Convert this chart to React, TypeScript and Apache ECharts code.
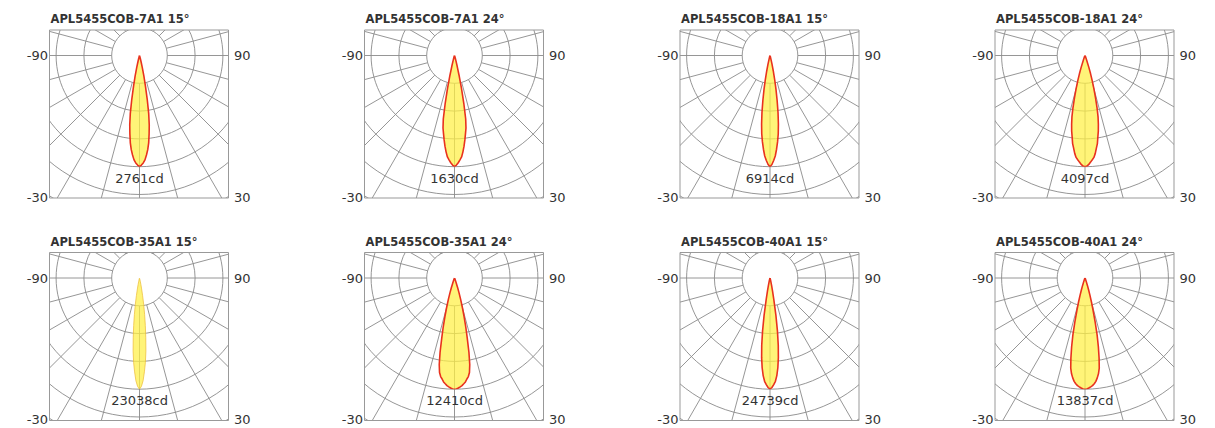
import React, { useEffect, useRef } from 'react';
import * as echarts from 'echarts';

// ---------- data ----------
const titles = [
  'APL5455COB-7A1 15°', 'APL5455COB-7A1 24°', 'APL5455COB-18A1 15°', 'APL5455COB-18A1 24°',
  'APL5455COB-35A1 15°', 'APL5455COB-35A1 24°', 'APL5455COB-40A1 15°', 'APL5455COB-40A1 24°',
];
const peakCd = [2761, 1630, 6914, 4097, 23038, 12410, 24739, 13837];

// half-profile angles (deg), mirrored for negative side
const angleDeg = [0, 1, 2, 3, 4, 5, 6, 7, 8, 9, 10, 11, 12, 13, 14, 15, 16, 17, 18, 20, 25, 30, 40, 60, 90];

const cd_7A1_15 = [2761, 2720, 2670, 2595, 2477, 2347, 2181, 1960, 1739, 1463, 1104, 773, 525, 304, 166, 83, 41, 30, 22, 14, 8, 6, 3, 1, 0];
const cd_7A1_24 = [1630, 1606, 1573, 1532, 1491, 1418, 1337, 1247, 1157, 1076, 945, 717, 489, 293, 163, 82, 49, 33, 24, 13, 7, 3, 2, 1, 0];
const cd_18A1_15 = [6914, 6776, 6534, 6257, 5842, 5393, 4909, 4287, 3595, 2835, 2143, 1521, 968, 553, 277, 138, 83, 62, 48, 28, 14, 7, 5, 2, 0];
const cd_18A1_24 = [4097, 4077, 4015, 3933, 3851, 3769, 3626, 3441, 3278, 3032, 2827, 2581, 2315, 1967, 1598, 1270, 963, 696, 451, 164, 41, 16, 8, 4, 0];
const cd_35A1_15 = [23038, 22462, 21310, 19467, 17509, 15205, 12441, 9906, 7603, 5529, 3686, 2304, 1382, 806, 461, 276, 184, 138, 115, 69, 46, 23, 16, 5, 0];
const cd_35A1_24 = [12410, 12385, 12286, 12162, 12038, 11852, 11665, 11355, 11107, 10673, 9804, 8439, 6826, 5585, 4406, 3351, 2482, 1737, 1117, 434, 124, 50, 25, 12, 0];
const cd_40A1_15 = [24739, 24368, 23749, 23007, 21770, 20039, 17812, 15091, 11875, 8411, 4948, 2969, 1732, 990, 618, 371, 247, 198, 148, 99, 49, 25, 17, 5, 0];
const cd_40A1_24 = [13837, 13809, 13699, 13560, 13422, 13214, 12938, 12522, 12038, 11346, 10101, 8717, 7264, 5604, 4151, 3127, 2214, 1522, 969, 415, 111, 42, 28, 14, 0];

const profiles = [cd_7A1_15, cd_7A1_24, cd_18A1_15, cd_18A1_24, cd_35A1_15, cd_35A1_24, cd_40A1_15, cd_40A1_24];

const sideLabels = ['-90', '90', '-30', '30'];
const angleStep = 15; // radial grid every 15°

// ---------- layout / style ----------
const colCenters = [139.5, 454.5, 770, 1085];
const rowCenters = [55.5, 278];
const RING = 27.8; // px per quarter of peak
const BOX_L = 90, BOX_R = 89, BOX_T = 25.5, BOX_B = 142.5;
const GRID_COLOR = '#8a8a8a';
const BOX_COLOR = '#999999';
const TEXT_COLOR = '#333333';
const lineColors = ['#e8321e', '#e8321e', '#e8321e', '#e8321e', 'rgba(236,190,60,0.75)', '#e8321e', '#e8321e', '#e8321e'];
const FONT = 'DejaVu Sans';

function lobeData(cd: number[]) {
  const out: number[][] = [];
  for (let k = angleDeg.length - 1; k >= 1; k--) out.push([cd[k], -angleDeg[k]]);
  for (let k = 0; k < angleDeg.length; k++) out.push([cd[k], angleDeg[k]]);
  return out;
}

function buildOption() {
  const polar: any[] = [];
  const angleAxis: any[] = [];
  const radiusAxis: any[] = [];
  const series: any[] = [];
  const graphic: any[] = [];
  const outerR = RING * 6.25;
  const ext = outerR + 4;

  titles.forEach((title, i) => {
    const row = Math.floor(i / 4);
    const col = i % 4;
    const cx = colCenters[col];
    const cy = rowCenters[row];
    const zb = row === 0 ? 10 : 1;
    const q = peakCd[i] / 4;
    const left = cx - BOX_L, right = cx + BOX_R, top = cy - BOX_T, bottom = cy + BOX_B;

    // grid polar (rings & radial lines, hollow centre)
    polar.push({ center: [cx, cy], radius: [RING, outerR] });
    angleAxis.push({
      polarIndex: 2 * i, type: 'value', min: -180, max: 180, interval: angleStep,
      startAngle: 90, clockwise: false, z: zb,
      axisLine: { show: false }, axisTick: { show: false }, axisLabel: { show: false },
      splitLine: { show: true, lineStyle: { color: GRID_COLOR, width: 0.9 } },
    });
    radiusAxis.push({
      polarIndex: 2 * i, type: 'value', min: q, max: q * 6.25, interval: q, z: zb,
      axisLine: { show: false }, axisTick: { show: false }, axisLabel: { show: false },
      splitLine: { show: true, lineStyle: { color: GRID_COLOR, width: 0.9 } },
    });

    // lobe polar
    polar.push({ center: [cx, cy], radius: [0, RING * 4] });
    angleAxis.push({ polarIndex: 2 * i + 1, type: 'value', min: -180, max: 180, startAngle: 90, clockwise: false, show: false });
    radiusAxis.push({ polarIndex: 2 * i + 1, type: 'value', min: 0, max: peakCd[i], show: false });
    series.push({
      type: 'line', coordinateSystem: 'polar', polarIndex: 2 * i + 1,
      data: lobeData(profiles[i]), showSymbol: false, silent: true, z: zb + 1,
      lineStyle: { color: lineColors[i], width: i === 4 ? 1 : 1.6 },
      areaStyle: { color: '#fff044', opacity: 0.72 },
    });

    // masks outside the box (overlapping slightly to avoid seams)
    const mz = zb + 2;
    const fill = { fill: '#ffffff' };
    graphic.push({ type: 'rect', z: mz, silent: true, shape: { x: cx - ext, y: cy - ext, width: 2 * ext, height: top - (cy - ext) }, style: fill });
    graphic.push({ type: 'rect', z: mz, silent: true, shape: { x: cx - ext, y: bottom, width: 2 * ext, height: cy + ext - bottom }, style: fill });
    graphic.push({ type: 'rect', z: mz, silent: true, shape: { x: cx - ext, y: top - 2, width: left - (cx - ext), height: bottom - top + 4 }, style: fill });
    graphic.push({ type: 'rect', z: mz, silent: true, shape: { x: right, y: top - 2, width: cx + ext - right, height: bottom - top + 4 }, style: fill });

    // box
    graphic.push({ type: 'rect', z: 40, silent: true, shape: { x: left, y: top, width: right - left, height: bottom - top }, style: { fill: 'none', stroke: BOX_COLOR, lineWidth: 1 } });

    // texts
    graphic.push({ type: 'text', z: 50, x: left + 1, y: cy - 36.5, style: { text: title, fill: TEXT_COLOR, fontFamily: FONT, fontWeight: 'bold', fontSize: 11.5, align: 'left', verticalAlign: 'middle' } });
    graphic.push({ type: 'text', z: 50, x: left - 1.5, y: cy, style: { text: sideLabels[0], fill: TEXT_COLOR, fontFamily: FONT, fontSize: 13, align: 'right', verticalAlign: 'middle' } });
    graphic.push({ type: 'text', z: 50, x: right + 5.5, y: cy, style: { text: sideLabels[1], fill: TEXT_COLOR, fontFamily: FONT, fontSize: 13, align: 'left', verticalAlign: 'middle' } });
    graphic.push({ type: 'text', z: 50, x: left - 1.5, y: bottom - 1, style: { text: sideLabels[2], fill: TEXT_COLOR, fontFamily: FONT, fontSize: 13, align: 'right', verticalAlign: 'middle' } });
    graphic.push({ type: 'text', z: 50, x: right + 5.5, y: bottom - 1, style: { text: sideLabels[3], fill: TEXT_COLOR, fontFamily: FONT, fontSize: 13, align: 'left', verticalAlign: 'middle' } });
    graphic.push({ type: 'text', z: 50, x: cx, y: cy + 122.5, style: { text: peakCd[i] + 'cd', fill: TEXT_COLOR, fontFamily: FONT, fontSize: 13, align: 'center', verticalAlign: 'middle' } });
  });

  return {
    animation: false,
    backgroundColor: '#ffffff',
    polar, angleAxis, radiusAxis, series, graphic,
  };
}

export default function App() {
  const ref = useRef<HTMLDivElement>(null);
  useEffect(() => {
    if (!ref.current) return;
    const chart = echarts.init(ref.current, undefined, { renderer: 'svg' });
    chart.setOption(buildOption() as any);
    return () => chart.dispose();
  }, []);
  return <div ref={ref} style={{ position: 'fixed', left: 0, top: 0, width: 1215, height: 428 }} />;
}
